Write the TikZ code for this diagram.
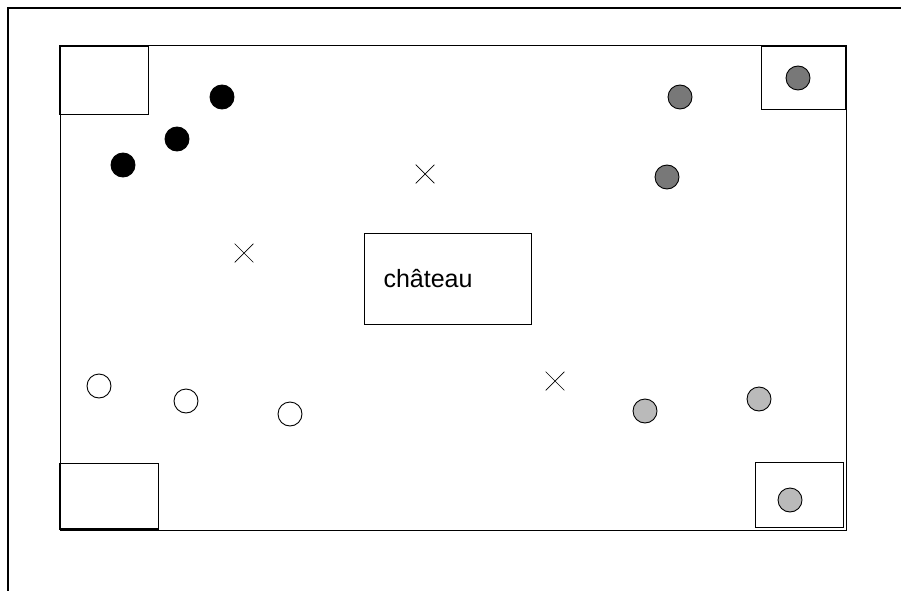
\documentclass[tikz,border=0pt]{standalone}
\usepackage{fontspec}
\setmainfont{Liberation Sans}
\usetikzlibrary{shapes.misc}

\begin{document}
\begin{tikzpicture}[x=1pt,y=-1pt,
  pion/.style={circle,draw,line width=0.9pt,minimum size=24pt,inner sep=0pt},
  croix/.style={cross out,draw,line width=0.7pt,minimum size=18pt,inner sep=0pt}]
  \useasboundingbox (0,0) rectangle (901,591);
  \draw[line width=1.6pt] (901,8) -- (8,8) -- (8,591); % 外枠
  \draw[line width=1pt] (60,46) rectangle (846,530); % 敷地
  \draw[line width=1pt] (60,46) rectangle (148,115); % 左上の隅
  \draw[line width=2.8pt] (60,115) -- (60,46) -- (148,46);
  \draw[line width=1pt] (761,47) rectangle (846,110); % 右上の隅
  \draw[line width=2.8pt] (846,47) -- (846,110);
  \draw[line width=1pt] (60,463) rectangle (158,529); % 左下の隅
  \draw[line width=2.8pt] (60,463) -- (60,529) -- (158,529);
  \draw[line width=1pt] (755,462) rectangle (843,527); % 右下の隅
  \node[draw,line width=1pt,minimum width=167pt,minimum height=91pt,
    text width=128pt,align=left,font=\fontsize{25}{29}\selectfont]
    (chateau) at (447.5,278.5) {château\\[-2pt]}; % 城
  \node[pion,fill=black] (noir1) at (123,165) {}; % 黒
  \node[pion,fill=black] (noir2) at (177,139) {};
  \node[pion,fill=black] (noir3) at (222,97) {};
  \node[pion,fill=black!53] (gris1) at (680,97) {}; % 濃い灰色
  \node[pion,fill=black!53] (gris2) at (667,177) {};
  \node[pion,fill=black!53] (gris3) at (798,78) {};
  \node[pion,fill=black!27] (clair1) at (645,411) {}; % 薄い灰色
  \node[pion,fill=black!27] (clair2) at (759,399) {};
  \node[pion,fill=black!27] (clair3) at (790,500) {};
  \node[pion,fill=white] (blanc1) at (99,386) {}; % 白
  \node[pion,fill=white] (blanc2) at (186,401) {};
  \node[pion,fill=white] (blanc3) at (290,414) {};
  \node[croix] (x1) at (425,174) {}; % ×印
  \node[croix] (x2) at (244,253) {};
  \node[croix] (x3) at (555,381) {};
\end{tikzpicture}
\end{document}
